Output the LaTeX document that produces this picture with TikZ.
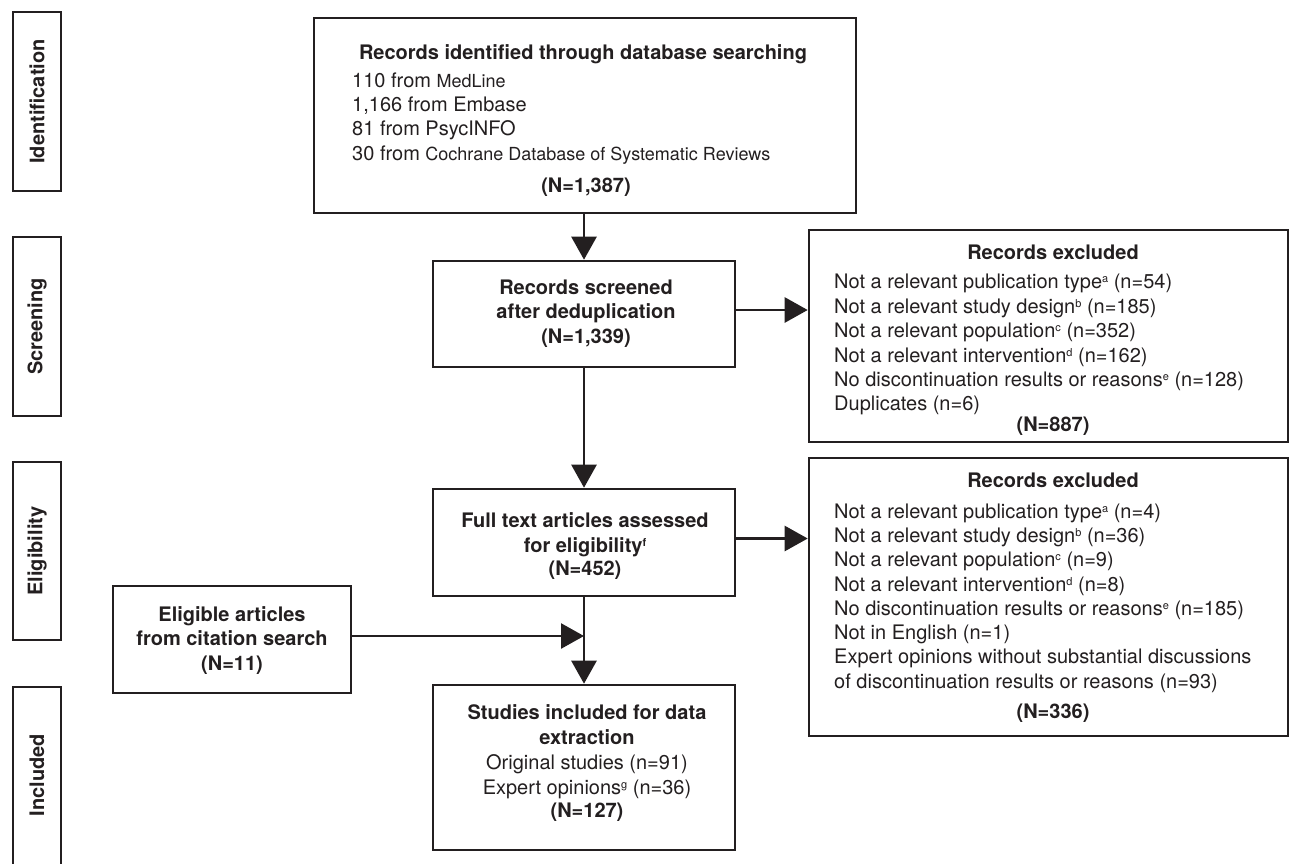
\documentclass[tikz,border=0pt]{standalone}
\usepackage{fontspec}
\setmainfont{TeX Gyre Heros}
\usetikzlibrary{arrows.meta}
\definecolor{ink}{RGB}{35,31,32}
\newcommand{\supr}[1]{\raisebox{0.55ex}{\fontsize{11}{12}\selectfont #1}}
\begin{document}
\begin{tikzpicture}[x=1pt,y=-1pt,
  box/.style={draw=ink, line width=2.6pt, inner sep=0pt},
  arr/.style={draw=ink, line width=2.6pt, -{Triangle[length=23pt,width=25pt]}},
  tl/.style={anchor=base, inner sep=0pt, text=ink, font=\fontsize{20}{24}\bfseries},
  tx/.style={anchor=base west, inner sep=0pt, text=ink, font=\fontsize{20}{24}\selectfont},
  tc/.style={anchor=base, inner sep=0pt, text=ink, font=\fontsize{20}{24}\selectfont},
  side/.style={box, rotate=90, text=ink, font=\fontsize{20}{24}\bfseries}]
\useasboundingbox (0,0) rectangle (1290,863);

% side labels
\node[side, minimum width=179pt, minimum height=48pt] (sid) at (37,101.5) {Identification};
\node[side, minimum width=179pt, minimum height=48pt] (sscr) at (37,326.5) {Screening};
\node[side, minimum width=178pt, minimum height=48pt] (selig) at (37,551) {Eligibility};
\draw[ink, line width=2.6pt] (13,880) -- (13,687) -- (61,687) -- (61,880);
\node[inner sep=0pt, rotate=90, text=ink, font=\fontsize{20}{24}\bfseries] (sincl) at (37,775) {Included};

% boxes
\node[box, minimum width=542pt, minimum height=195pt] (top) at (585,115.5) {};
\node[box, minimum width=302pt, minimum height=106pt] (screened) at (584,314) {};
\node[box, minimum width=479pt, minimum height=212pt] (excl1) at (1048.5,336) {};
\node[box, minimum width=302pt, minimum height=107pt] (full) at (584,542.5) {};
\node[box, minimum width=479pt, minimum height=278pt] (excl2) at (1048.5,597) {};
\node[box, minimum width=238pt, minimum height=107pt] (cite) at (232,639.5) {};
\node[box, minimum width=302pt, minimum height=165pt] (incl) at (584,767.5) {};

% top box text
\node[tl] (t0) at (583,59) {Records identified through database searching};
\node[tx] (t1) at (352,87) {110 from {\fontsize{18}{24}\selectfont MedLine}};
\node[tx] (t2) at (352,111) {1,166 from Embase};
\node[tx] (t3) at (352,135) {81 from PsycINFO};
\node[tx] (t4) at (352,160) {30 from {\fontsize{18}{24}\selectfont Cochrane Database of Systematic Reviews}};
\node[tl] (t5) at (586,192) {(N=1,387)};

% screened text
\node[tl] (s1) at (586,294) {Records screened};
\node[tl] (s2) at (586,318) {after deduplication};
\node[tl] (s3) at (586,343) {(N=1,339)};

% excluded 1
\node[tl] (e0) at (1053,259) {Records excluded};
\node[tx] (e1) at (834,288) {Not a relevant publication type\supr{a} (n=54)};
\node[tx] (e2) at (834,313) {Not a relevant study design\supr{b} (n=185)};
\node[tx] (e3) at (834,337) {Not a relevant population\supr{c} (n=352)};
\node[tx] (e4) at (834,362) {Not a relevant intervention\supr{d} (n=162)};
\node[tx] (e5) at (834,386) {No discontinuation results or reasons\supr{e} (n=128)};
\node[tx] (e6) at (834,410) {Duplicates (n=6)};
\node[tl] (e7) at (1053,431) {(N=887)};

% full text
\node[tl] (f1) at (585,527) {Full text articles assessed};
\node[tl] (f2) at (585,552) {for eligibility\supr{\bfseries f}};
\node[tl] (f3) at (585,575) {(N=452)};

% excluded 2
\node[tl] (x0) at (1053,487) {Records excluded};
\node[tx] (x1) at (834,518) {Not a relevant publication type\supr{a} (n=4)};
\node[tx] (x2) at (834,542) {Not a relevant study design\supr{b} (n=36)};
\node[tx] (x3) at (834,566) {Not a relevant population\supr{c} (n=9)};
\node[tx] (x4) at (834,591) {Not a relevant intervention\supr{d} (n=8)};
\node[tx] (x5) at (834,615) {No discontinuation results or reasons\supr{e} (n=185)};
\node[tx] (x6) at (834,639) {Not in English (n=1)};
\node[tx] (x7) at (834,663) {Expert opinions without substantial discussions};
\node[tx] (x8) at (834,688) {of discontinuation results or reasons (n=93)};
\node[tl] (x9) at (1053,718) {(N=336)};

% citation
\node[tl] (c1) at (232,621) {Eligible articles};
\node[tl] (c2) at (232,645) {from citation search};
\node[tl] (c3) at (232,670) {(N=11)};

% included
\node[tl] (i1) at (587,719) {Studies included for data};
\node[tl] (i2) at (587,744) {extraction};
\node[tc] (i3) at (587,769) {Original studies (n=91)};
\node[tc] (i4) at (587,794) {Expert opinions\supr{g} (n=36)};
\node[tl] (i5) at (587,817) {(N=127)};

% connectors
\draw[arr] (screened.north |- top.south) -- (screened.north);
\draw[arr] ([yshift=4pt]screened.east) -- ([yshift=4pt]screened.east -| excl1.west);
\draw[arr] (screened.south) -- (full.north);
\draw[arr] ([yshift=4pt]full.east) -- ([yshift=4pt]full.east -| excl2.west);
\draw[arr] (full.south) -- (incl.north);
\coordinate (join) at ([yshift=3.5pt]full.south |- cite.east);
\draw[arr] ([yshift=3.5pt]cite.east) -- (join);
\end{tikzpicture}
\end{document}
